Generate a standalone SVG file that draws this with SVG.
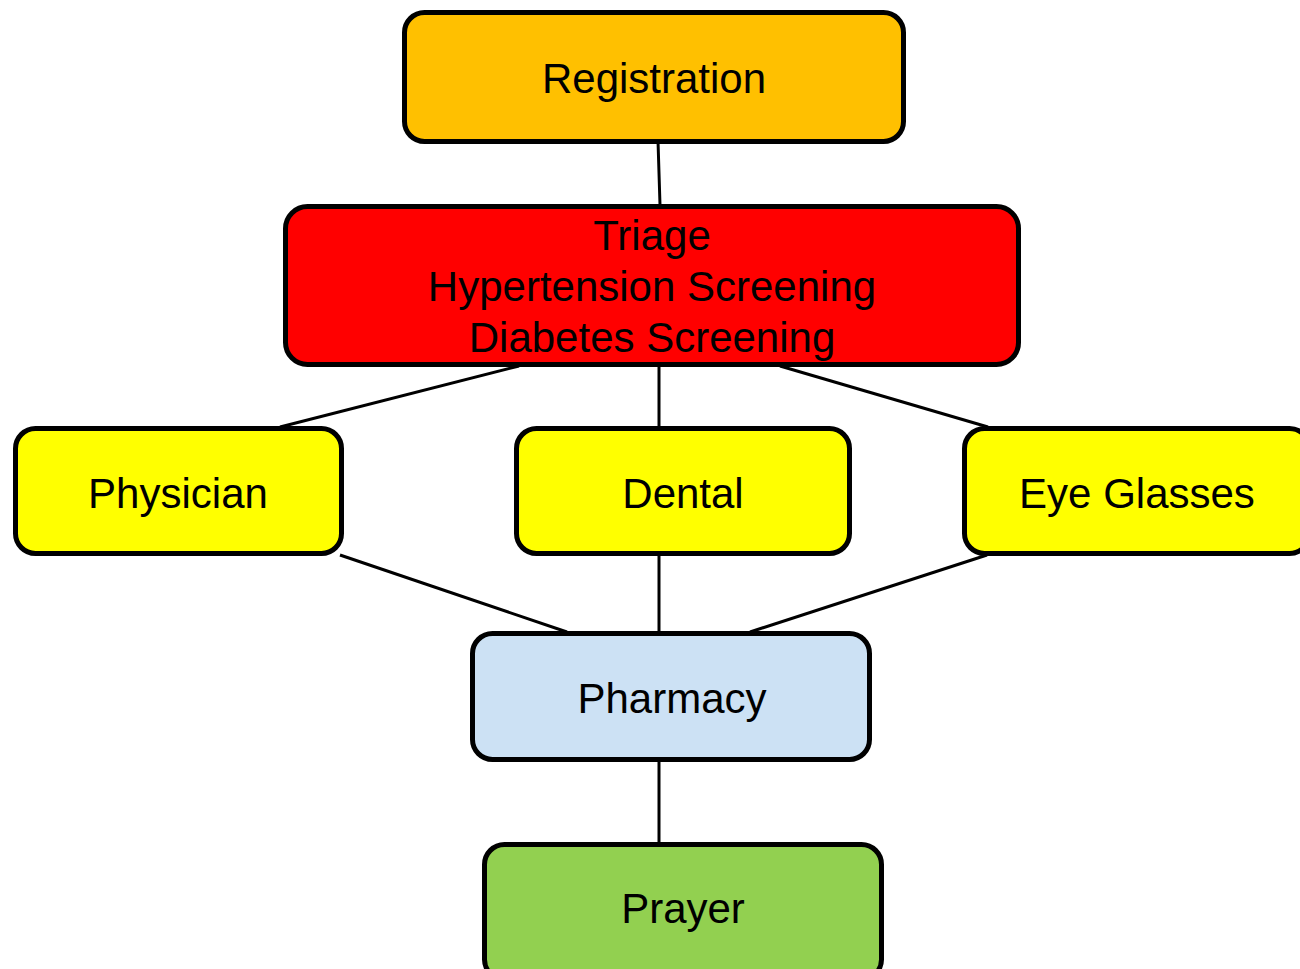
<svg xmlns="http://www.w3.org/2000/svg" width="1300" height="969" viewBox="0 0 1300 969">
<style>
.box{stroke:#000;stroke-width:5}
.lbl{font-family:"Liberation Sans",Arial,sans-serif;font-size:42px;fill:#000;text-anchor:middle}
.con line{stroke:#000;stroke-width:3}
</style>
<rect width="1300" height="969" fill="#fff"/>
<g id="connectors" class="con">
<line x1="658" y1="141" x2="660" y2="205"/>
<line x1="519" y1="366" x2="280" y2="427"/>
<line x1="659" y1="366" x2="659" y2="427"/>
<line x1="780" y1="366" x2="988" y2="427"/>
<line x1="340" y1="555" x2="567" y2="632"/>
<line x1="659" y1="555" x2="659" y2="632"/>
<line x1="987" y1="555" x2="750" y2="632"/>
<line x1="659" y1="760" x2="659" y2="843"/>
</g>
<g id="registration">
<rect class="box" x="404.5" y="12.5" width="499" height="129" rx="20" fill="#FFC000"/>
<text class="lbl" x="654" y="93">Registration</text>
</g>
<g id="triage">
<rect class="box" x="285.5" y="206.5" width="733" height="158" rx="22" fill="#FF0000"/>
<text class="lbl" x="652" y="250">Triage</text>
<text class="lbl" x="652" y="301">Hypertension Screening</text>
<text class="lbl" x="652" y="352">Diabetes Screening</text>
</g>
<g id="physician">
<rect class="box" x="15.5" y="428.5" width="326" height="125" rx="20" fill="#FFFF00"/>
<text class="lbl" x="178" y="508">Physician</text>
</g>
<g id="dental">
<rect class="box" x="516.5" y="428.5" width="333" height="125" rx="20" fill="#FFFF00"/>
<text class="lbl" x="683" y="508">Dental</text>
</g>
<g id="eyeglasses">
<rect class="box" x="964.5" y="428.5" width="345" height="125" rx="20" fill="#FFFF00"/>
<text class="lbl" x="1137" y="508">Eye Glasses</text>
</g>
<g id="pharmacy">
<rect class="box" x="472.5" y="633.5" width="397" height="126" rx="20" fill="#CCE1F4"/>
<text class="lbl" x="672" y="713">Pharmacy</text>
</g>
<g id="prayer">
<rect class="box" x="484.5" y="844.5" width="397" height="135" rx="20" fill="#92D050"/>
<text class="lbl" x="683" y="923">Prayer</text>
</g>
</svg>
